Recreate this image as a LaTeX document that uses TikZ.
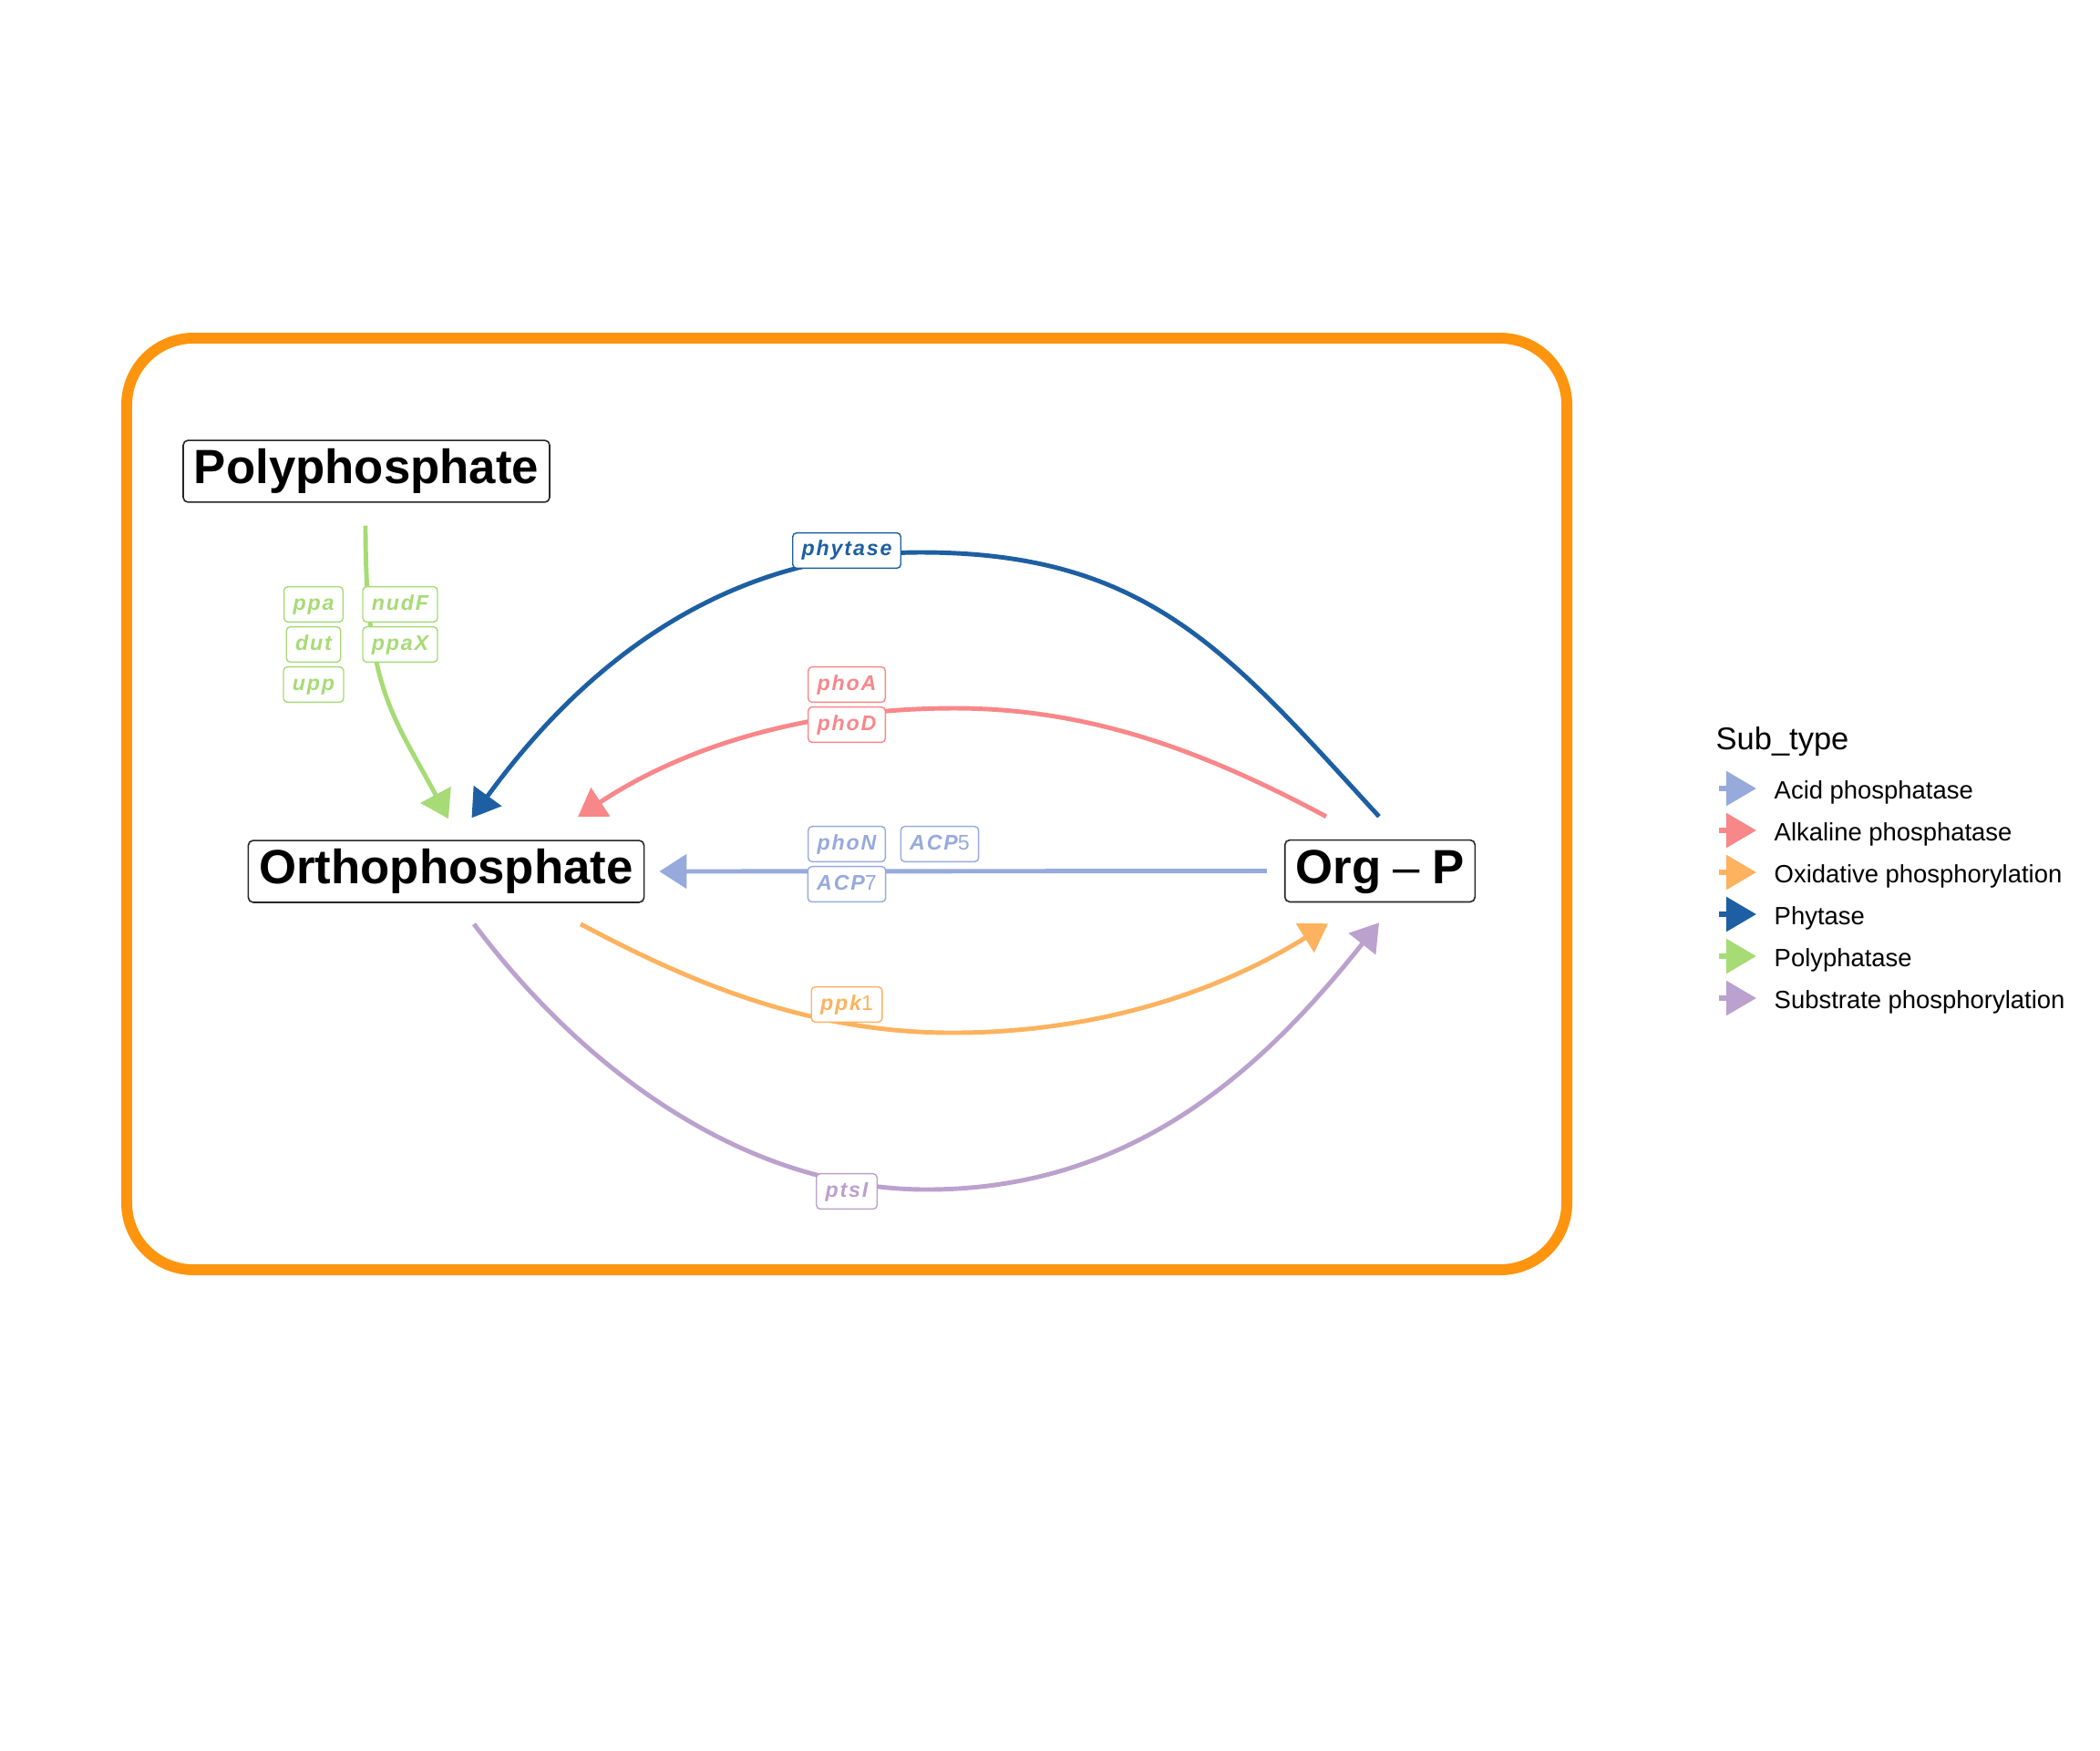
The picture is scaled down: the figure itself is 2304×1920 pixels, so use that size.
\documentclass[tikz,border=0pt]{standalone}
\usepackage{fontspec}
\setmainfont{Liberation Sans}
\newfontfamily\genefont{Liberation Sans}[LetterSpace=8]
\usetikzlibrary{calc}
\usetikzlibrary{arrows.meta}
\definecolor{acidc}{HTML}{97AADC}
\definecolor{alkc}{HTML}{F8878A}
\definecolor{oxic}{HTML}{FDB25F}
\definecolor{phyc}{HTML}{1D5FA2}
\definecolor{polyc}{HTML}{A6DB75}
\definecolor{subc}{HTML}{BBA1CD}
\definecolor{framec}{HTML}{FF940E}
\newcommand{\gdig}[1]{{\mdseries\upshape #1}}

\begin{document}
\begin{tikzpicture}[x=0.01cm, y=-0.01cm,
  place/.style={draw=black!85, fill=white, rounded corners=1.5pt, line width=0.45pt,
    font=\bfseries\fontsize{15}{18}\selectfont, inner xsep=3.4pt, inner ysep=2.6pt,
    minimum height=19.3pt, text height=10.9pt, text depth=3.2pt},
  gene/.style={draw=#1, text=#1, fill=white, rounded corners=1.2pt, line width=0.4pt,
    font=\genefont\bfseries\itshape\fontsize{6.6}{7}\selectfont, inner xsep=2.8pt, inner ysep=2pt,
    minimum height=11pt, text height=4.8pt, text depth=1.4pt},
  flow/.style={draw=#1, line width=1.4pt, -{Triangle[length=8.5pt, width=10.5pt]}}]
\useasboundingbox (0,0) rectangle (2304,1920);
\draw[framec, line width=3.4pt, rounded corners=20.8pt] (139,371) rectangle (1719,1393);

\node[place] (poly) at (402,517) {Polyphosphate};
\node[place] (ortho) at (489.5,956) {Orthophosphate};
\node[place] (orgp) at (1514,955.5) {Org\kern0.25em{\mdseries --}\kern0.25em P};

\draw[flow=polyc] ($(poly.south)+(-1,25)$) .. controls +(0,180) and +(-61,-114.4) .. ($(ortho.north)+(2.5,-23)$);
\draw[flow=phyc] ($(orgp.north)+(-1,-25)$) .. controls +(-165,-180) and +(250,0) .. (1010,606)
  .. controls +(-200,0) and +(135.5,-186) .. ($(ortho.north)+(28,-24)$);
\draw[flow=alkc] ($(orgp.north)+(-59,-25)$) .. controls +(-132,-70.5) and +(150,0) .. (1047,777)
  .. controls +(-150,0) and +(124.5,-82.5) .. ($(ortho.north)+(144.5,-25)$);
\draw[flow=acidc] ($(orgp.west)+(-19,0)$) -- ($(ortho.east)+(16,0)$);
\draw[flow=oxic] ($(ortho.south)+(147.5,23)$) .. controls +(132,70.5) and +(-150,0) .. (1045,1133)
  .. controls +(150,0) and +(-127.5,79.5) .. ($(orgp.south)+(-57,23)$);
\draw[flow=subc] ($(ortho.south)+(30.5,23)$) .. controls +(120,160) and +(-200,0) .. (1017,1305)
  .. controls +(230,0) and +(-124,156) .. ($(orgp.south)+(-1,22)$);

\node[gene=phyc] (phytase) at (929,604) {phytase};
\node[gene=alkc] (phoA) at (929,751) {phoA};
\node[gene=alkc] (phoD) at (929,795) {phoD};
\node[gene=acidc] (phoN) at (929,926) {phoN};
\node[gene=acidc] (acp5) at (1031,926) {ACP\gdig{5}};
\node[gene=acidc] (acp7) at (929,970) {ACP\gdig{7}};
\node[gene=oxic] (ppk1) at (929,1102) {ppk\gdig{1}};
\node[gene=subc] (ptsI) at (929,1307) {ptsI};
\foreach \g/\x/\y in {ppa/344/663, dut/344/707, upp/344/751, nudF/439/663, ppaX/439/707}
  \node[gene=polyc] (\g) at (\x,\y) {\g};

\node[anchor=base west, inner sep=0pt, font=\fontsize{9.8}{12}\selectfont] (subtype) at (1882,822) {Sub\_type};
\foreach \c/\t [count=\i] in {acidc/Acid phosphatase, alkc/Alkaline phosphatase,
  oxic/Oxidative phosphorylation, phyc/Phytase, polyc/Polyphatase, subc/Substrate phosphorylation} {
 \draw[\c, line width=1.7pt, -{Triangle[length=9.4pt, width=10.5pt]}] (1886,{819+46*\i}) -- (1927,{819+46*\i});
 \node[anchor=base west, inner sep=0pt, font=\fontsize{7.8}{9}\selectfont] (key\i) at (1946,{830.7+46*\i}) {\t};
}
\end{tikzpicture}
\end{document}
